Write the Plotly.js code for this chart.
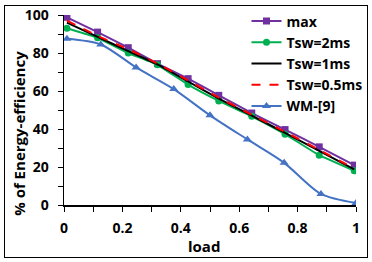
<!DOCTYPE html>
<html>
<head>
<meta charset="utf-8">
<script src="https://cdn.plot.ly/plotly-3.0.1.min.js"></script>
<style>
html,body{margin:0;padding:0;background:#fff;}
#wrap{position:relative;width:372px;height:262px;}
#chart{position:absolute;left:0;top:0;width:372px;height:262px;}
#frame{position:absolute;left:4px;top:5px;width:362px;height:251px;border:1px solid #000;pointer-events:none;}
</style>
</head>
<body>
<div id="wrap"><div id="chart"></div><div id="frame"></div></div>
<script>
const loadX = [0.01, 0.115, 0.22, 0.32, 0.425, 0.53, 0.643, 0.757, 0.874, 0.994];
const maxEff = [98.8, 91, 82.8, 74.4, 66.5, 57.7, 48.4, 39.7, 30.6, 21];
const tsw2ms = [93, 88, 80, 73.8, 63.4, 54.8, 46.7, 37.3, 26.2, 18];
const tsw1ms = [96, 88.5, 81, 74, 65, 56, 47, 38, 28.5, 18.7];
const tsw05ms = [97, 89, 82, 74.5, 65.5, 56.5, 47.5, 38.5, 29, 19.2];
const wmX = [0.01, 0.126, 0.247, 0.376, 0.5, 0.628, 0.754, 0.88, 1.0];
const wmEff = [87.5, 84.5, 72.4, 61, 47.2, 34.5, 22.2, 5.8, 1];
const xTicks = [0, 0.2, 0.4, 0.6, 0.8, 1];
const xTickText = ['0', '0.2', '0.4', '0.6', '0.8', '1'];
const yTicks = [0, 20, 40, 60, 80, 100];
const xTitle = 'load';
const yTitle = '% of Energy-efficiency';

const font = 'Open Sans, sans-serif';
const traces = [
  {x: loadX, y: maxEff, name: 'max', mode: 'lines+markers',
   line: {color: '#7030A0', width: 2, shape: 'spline', smoothing: 0.3},
   marker: {symbol: 'square', size: 7, color: '#7030A0'}},
  {x: loadX, y: tsw2ms, name: 'Tsw=2ms', mode: 'lines+markers',
   line: {color: '#00B050', width: 2, shape: 'spline', smoothing: 0.3},
   marker: {symbol: 'circle', size: 7, color: '#00B050'}},
  {x: loadX, y: tsw1ms, name: 'Tsw=1ms', mode: 'lines',
   line: {color: '#000000', width: 2, shape: 'spline', smoothing: 0.3}},
  {x: loadX, y: tsw05ms, name: 'Tsw=0.5ms', mode: 'lines',
   line: {color: '#FF0000', width: 2, dash: 'dash', shape: 'spline', smoothing: 0.3}},
  {x: wmX, y: wmEff, name: 'WM-[9]', mode: 'lines+markers',
   line: {color: '#4472C4', width: 2, shape: 'spline', smoothing: 0.8},
   marker: {symbol: 'triangle-up', size: 8, color: '#4472C4'}}
];

const layout = {
  width: 372, height: 262,
  margin: {l: 64, r: 16, t: 14.5, b: 57, autoexpand: false},
  paper_bgcolor: '#fff', plot_bgcolor: '#fff',
  showlegend: true,
  legend: {x: 0.625, y: 1.05, xanchor: 'left', yanchor: 'top',
    bgcolor: 'rgba(255,255,255,0)', tracegroupgap: 0,
    font: {family: font, size: 14, color: '#000', weight: 'bold'}},
  xaxis: {range: [0, 1], tickvals: xTicks, ticktext: xTickText,
    ticks: 'outside', ticklen: 5, tickwidth: 1, tickcolor: '#000',
    minor: {dtick: 0.1, ticks: 'outside', ticklen: 5, tickcolor: '#000', tickwidth: 1},
    showline: true, linecolor: '#000', linewidth: 1.5, showgrid: false, zeroline: false,
    ticklabelstandoff: 5,
    tickfont: {family: font, size: 14, color: '#000', weight: 'bold'}},
  yaxis: {range: [0, 100], tickvals: yTicks,
    ticks: 'outside', ticklen: 5, tickwidth: 1, tickcolor: '#000',
    minor: {dtick: 10, ticks: 'outside', ticklen: 5, tickcolor: '#000', tickwidth: 1},
    showline: true, linecolor: '#000', linewidth: 1.5, showgrid: false, zeroline: false,
    ticklabelstandoff: 6,
    tickfont: {family: font, size: 14, color: '#000', weight: 'bold'}},
  annotations: [
    {text: xTitle, xref: 'paper', yref: 'paper', x: 0.479, y: -0.215,
     xanchor: 'center', yanchor: 'middle', showarrow: false,
     font: {family: font, size: 15, color: '#000', weight: 'bold'}},
    {text: yTitle, xref: 'paper', yref: 'paper', x: -0.154, y: 0.375,
     xanchor: 'center', yanchor: 'middle', showarrow: false, textangle: -90,
     font: {family: font, size: 15, color: '#000', weight: 'bold'}}
  ]
};

Plotly.newPlot('chart', traces, layout, {displayModeBar: false, staticPlot: true});
</script>
</body>
</html>
